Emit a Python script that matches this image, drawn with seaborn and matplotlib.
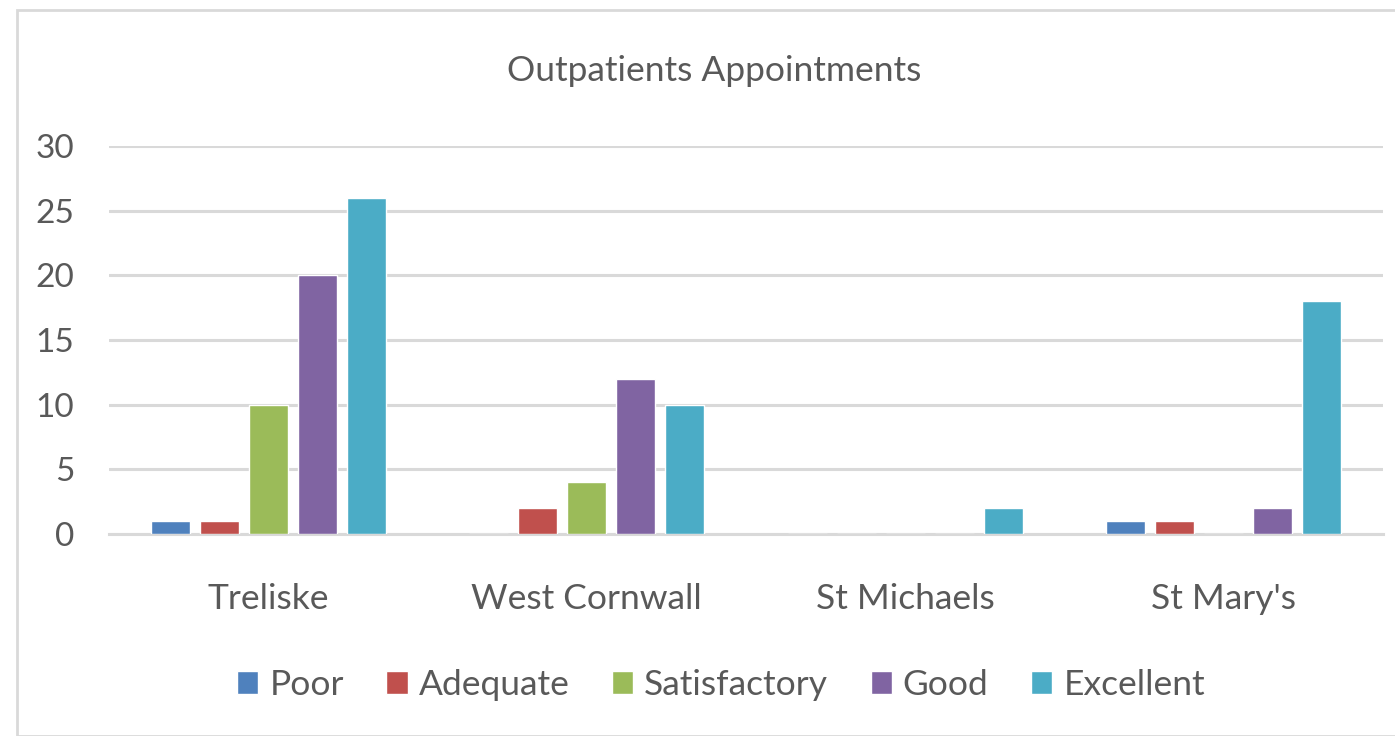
import matplotlib
matplotlib.use("Agg")
import matplotlib.pyplot as plt
import seaborn as sns
import pandas as pd
from matplotlib.patches import Rectangle

hospitals = ["Treliske", "West Cornwall", "St Michaels", "St Mary's"]
ratings = ["Poor", "Adequate", "Satisfactory", "Good", "Excellent"]
poor = [1, 0, 0, 1]
adequate = [1, 2, 0, 1]
satisfactory = [10, 4, 0, 0]
good = [20, 12, 0, 2]
excellent = [26, 10, 2, 18]
colors = ["#4f81bd", "#c0504d", "#9bbb59", "#8064a2", "#4bacc6"]
yticks = [0, 5, 10, 15, 20, 25, 30]

rows = []
for series_name, vals in zip(ratings, [poor, adequate, satisfactory, good, excellent]):
    for h, v in zip(hospitals, vals):
        rows.append({"Hospital": h, "Rating": series_name, "Count": v})
df = pd.DataFrame(rows)

sns.set_theme(style="white")
plt.rcParams["font.family"] = ["Lato", "DejaVu Sans"]
text_color = "#595959"
grid_color = "#d9d9d9"

fig = plt.figure(figsize=(13.95, 7.36), dpi=100)
ax = fig.add_axes([109 / 1395, 1 - 534 / 736, (1383 - 109) / 1395, (534 - 146) / 736])

sns.barplot(data=df, x="Hospital", y="Count", hue="Rating", order=hospitals,
            hue_order=ratings, palette=colors, width=0.77, gap=0.2,
            saturation=1, ax=ax, legend=True, zorder=3)

ax.set_ylim(0, 30)
ax.set_xlim(-0.5, len(hospitals) - 0.5)
ax.set_yticks(yticks)
ax.set_yticklabels([str(t) for t in yticks])
ax.yaxis.grid(True, color=grid_color, linewidth=2.2, zorder=0)
ax.set_axisbelow(True)
for s in ["top", "right", "left"]:
    ax.spines[s].set_visible(False)
ax.spines["bottom"].set_color(grid_color)
ax.spines["bottom"].set_linewidth(2.2)
ax.tick_params(axis="y", length=0, pad=25, labelsize=24, labelcolor=text_color)
ax.tick_params(axis="x", length=0, pad=35, labelsize=25.5, labelcolor=text_color)
ax.set_xlabel("")
ax.set_ylabel("")

fig.text(714 / 1395, 1 - 71 / 736, "Outpatients Appointments", ha="center", va="center",
         fontsize=25.5, color=text_color)

handles, labels = ax.get_legend_handles_labels()
ax.get_legend().remove()
fig.legend(handles, labels, loc="center", bbox_to_anchor=(721 / 1395, 1 - 685 / 736),
           ncol=5, frameon=False, fontsize=25.5, labelcolor=text_color,
           handlelength=0.6, handleheight=0.6, handletextpad=0.31, columnspacing=1.2)

fig.patches.append(Rectangle((17 / 1395, 0), 1.0, 1 - 10 / 736, transform=fig.transFigure,
                             fill=False, edgecolor="#d9d9d9", linewidth=2))

fig.savefig("out.png", dpi=100)
